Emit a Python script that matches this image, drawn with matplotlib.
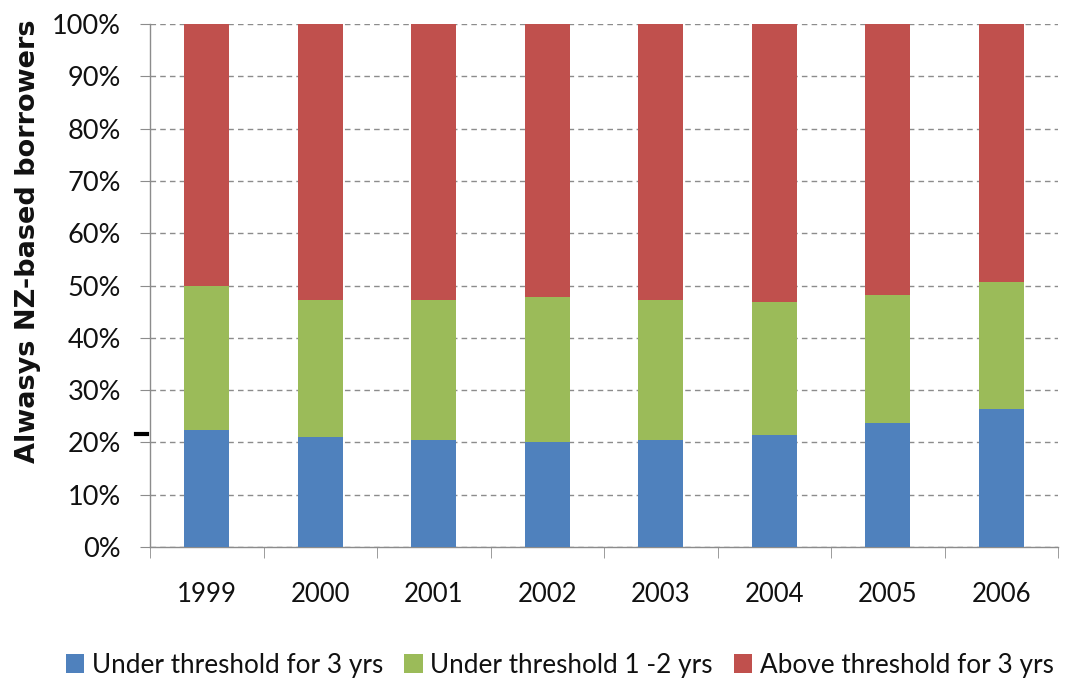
import matplotlib
matplotlib.use("Agg")
import matplotlib.pyplot as plt
from matplotlib.lines import Line2D
from matplotlib.patches import Patch
import numpy as np

years = ["1999", "2000", "2001", "2002", "2003", "2004", "2005", "2006"]
under_3yrs = [22.4, 21.1, 20.5, 20.1, 20.5, 21.5, 23.7, 26.3]
under_1_2yrs = [27.6, 26.1, 26.7, 27.7, 26.7, 25.3, 24.4, 24.3]
above_3yrs = [50.0, 52.8, 52.8, 52.2, 52.8, 53.2, 51.9, 49.4]

series_names = ["Under threshold for 3 yrs", "Under threshold 1 -2 yrs",
                "Above threshold for 3 yrs"]
series_colors = ["#4F81BD", "#9BBB59", "#C0504D"]
y_ticks = [0, 10, 20, 30, 40, 50, 60, 70, 80, 90, 100]

plt.rcParams["font.family"] = ["Lato", "DejaVu Sans"]

fig = plt.figure(figsize=(10.69, 6.85), dpi=100)
ax = fig.add_axes([150 / 1069, 138 / 685, 908 / 1069, 523 / 685])

x = np.arange(len(years))
bottom = np.zeros(len(years))
for vals, color in zip([under_3yrs, under_1_2yrs, above_3yrs], series_colors):
    ax.bar(x, vals, width=0.4, bottom=bottom, color=color, zorder=3)
    bottom += np.array(vals)

ax.set_xlim(-0.5, len(years) - 0.5)
ax.set_ylim(0, 100)
ax.set_yticks(y_ticks)
ax.set_yticklabels([f"{t}%" for t in y_ticks], fontsize=19.5)
ax.set_xticks(x)
ax.set_xticklabels(years, fontsize=18.5)
ax.set_xticks(np.arange(-0.5, len(years)), minor=True)

ax.yaxis.grid(True, linestyle=(0, (4, 3)), color="#8c8c8c", linewidth=1.0, zorder=0)
for side in ["top", "right"]:
    ax.spines[side].set_visible(False)
for side in ["left", "bottom"]:
    ax.spines[side].set_color("#8c8c8c")
    ax.spines[side].set_linewidth(1.0)

ax.tick_params(axis="y", length=7, color="#8c8c8c", pad=14, labelcolor="#111111")
ax.tick_params(axis="x", which="major", length=0, pad=25, labelcolor="#111111")
ax.tick_params(axis="x", which="minor", length=8, color="#8c8c8c")

fig.text(28 / 1069, 1 - 241 / 685, "Alwasys NZ-based borrowers", rotation=90,
         ha="center", va="center", fontsize=19.5, fontweight="bold",
         family="DejaVu Sans", color="#111111")

fig.add_artist(Line2D([136 / 1069, 147 / 1069], [1 - 434 / 685, 1 - 434 / 685],
                      color="black", linewidth=3))

handles = [Patch(facecolor=c, edgecolor="none") for c in series_colors]
fig.legend(handles, series_names, loc="center", bbox_to_anchor=(560 / 1069, 1 - 665 / 685),
           ncol=3, frameon=False, fontsize=18.8, handlelength=0.7, handleheight=0.7,
           handletextpad=0.3, columnspacing=0.8, labelcolor="#111111")

fig.savefig("out.png", dpi=100)
